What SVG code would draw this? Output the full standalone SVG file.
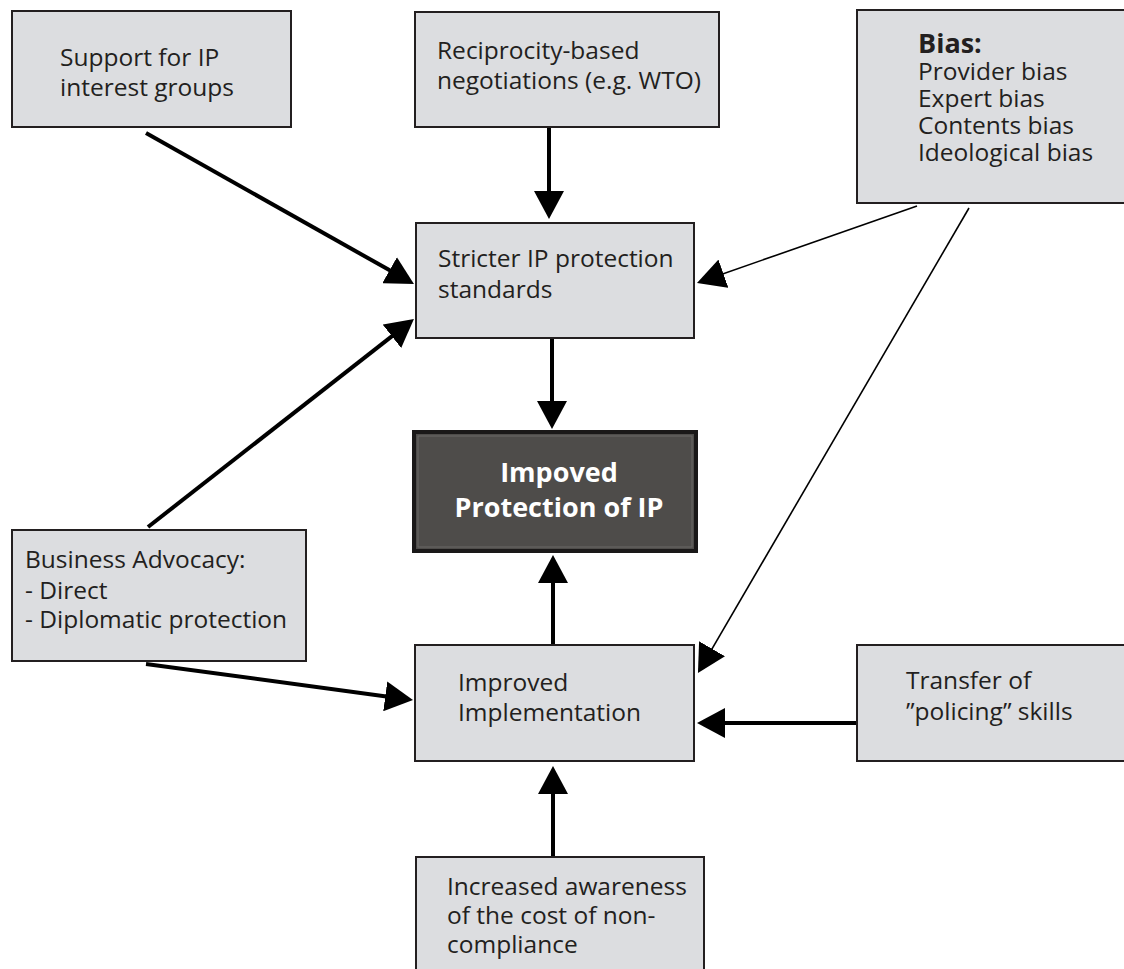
<svg xmlns="http://www.w3.org/2000/svg" width="1124" height="969" viewBox="0 0 1124 969">
<defs>
<style>
.box{fill:#dcdde0;stroke:#231f20;stroke-width:2}
.t{font-family:"Open Sans","DejaVu Sans",sans-serif;font-size:24.5px;fill:#231f20}
.tb{font-family:"Open Sans","DejaVu Sans",sans-serif;font-size:27px;font-weight:bold;fill:#ffffff}
.thick{stroke:#000;stroke-width:4;fill:none;marker-end:url(#ah)}
.thin{stroke:#000;stroke-width:1.6;fill:none;marker-end:url(#ah)}
</style>
<marker id="ah" markerUnits="userSpaceOnUse" markerWidth="28" markerHeight="30" viewBox="0 0 28 30" refX="16" refY="15" orient="auto">
<path d="M0,0 L28,15 L0,30 Z" fill="#000"/>
</marker>
</defs>
<rect width="1124" height="969" fill="#fff"/>
<g id="connectors">
<line class="thick" x1="146" y1="133" x2="403.5" y2="278.1"/>
<line class="thick" x1="148" y1="527" x2="404.5" y2="326.4"/>
<line class="thin" x1="917" y1="206" x2="708.3" y2="279"/>
<line class="thin" x1="969" y1="208" x2="704" y2="662.6"/>
<line class="thick" x1="146" y1="664" x2="401.1" y2="698.4"/>
<line class="thick" x1="549" y1="127" x2="549" y2="207"/>
<line class="thick" x1="552" y1="338" x2="552" y2="417"/>
<line class="thick" x1="553" y1="645" x2="553" y2="567"/>
<line class="thick" x1="553" y1="857" x2="553" y2="778"/>
<line class="thick" x1="857" y1="723" x2="709" y2="723"/>
</g>
<g id="support">
<rect class="box" x="12" y="11" width="279" height="116"/>
<text class="t" x="60" y="66">Support for IP</text>
<text class="t" x="60" y="96">interest groups</text>
</g>
<g id="reciprocity">
<rect class="box" x="415" y="12" width="304" height="115"/>
<text class="t" x="437" y="59">Reciprocity-based</text>
<text class="t" x="437" y="89">negotiations (e.g. WTO)</text>
</g>
<g id="bias">
<rect class="box" x="857" y="10" width="275" height="193"/>
<text class="t" x="918" y="53" style="font-weight:bold;font-size:27px">Bias:</text>
<text class="t" x="918" y="80">Provider bias</text>
<text class="t" x="918" y="107">Expert bias</text>
<text class="t" x="918" y="134">Contents bias</text>
<text class="t" x="918" y="161">Ideological bias</text>
</g>
<g id="stricter">
<rect class="box" x="416" y="223" width="278" height="115"/>
<text class="t" x="438" y="267">Stricter IP protection</text>
<text class="t" x="438" y="298">standards</text>
</g>
<g id="improved-protection">
<rect x="414" y="432" width="282" height="119" fill="#4e4c4a" stroke="#1a1818" stroke-width="4"/>
<rect x="418" y="436" width="274" height="111" fill="none" stroke="#6a6866" stroke-width="1"/>
<text class="tb" x="559" y="482" text-anchor="middle">Impoved</text>
<text class="tb" x="559" y="517" text-anchor="middle">Protection of IP</text>
</g>
<g id="business">
<rect class="box" x="12" y="530" width="294" height="131"/>
<text class="t" x="25" y="568">Business Advocacy:</text>
<text class="t" x="25" y="599">- Direct</text>
<text class="t" x="25" y="628">- Diplomatic protection</text>
</g>
<g id="implementation">
<rect class="box" x="415" y="645" width="279" height="116"/>
<text class="t" x="458" y="691">Improved</text>
<text class="t" x="458" y="721">Implementation</text>
</g>
<g id="transfer">
<rect class="box" x="857" y="645" width="275" height="116"/>
<text class="t" x="906" y="689">Transfer of</text>
<text class="t" x="906" y="720">”policing” skills</text>
</g>
<g id="awareness">
<rect class="box" x="416" y="857" width="288" height="130"/>
<text class="t" x="447" y="895">Increased awareness</text>
<text class="t" x="447" y="924">of the cost of non-</text>
<text class="t" x="447" y="953">compliance</text>
</g>
</svg>
